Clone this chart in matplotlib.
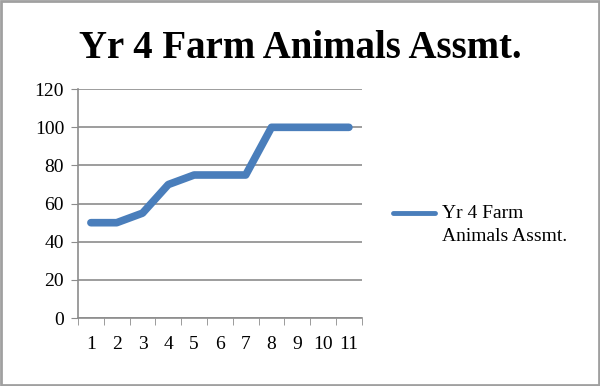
import numpy as np
import matplotlib.pyplot as plt
from matplotlib.patches import Rectangle
from matplotlib.lines import Line2D

# Datos
semanas = [1, 2, 3, 4, 5, 6, 7, 8, 9, 10, 11]
puntajes = [50, 50, 55, 70, 75, 75, 75, 100, 100, 100, 100]
titulo = 'Yr 4 Farm Animals Assmt.'
etiqueta = 'Yr 4 Farm\nAnimals Assmt.'

plt.rcParams['font.family'] = ['Liberation Serif', 'DejaVu Serif']

fig = plt.figure(figsize=(6, 3.86), dpi=100)
ax = fig.add_axes([0.13, 0.176, 0.473, 0.593])

gris = '#8c8c8c'
azul = '#4a7ebb'
ax.plot(semanas, puntajes, color=azul, linewidth=5.5,
        solid_capstyle='round', solid_joinstyle='round', zorder=3)

ax.set_xlim(0.5, 11.5)
ax.set_ylim(0, 120)
ax.set_yticks(np.arange(0, 121, 20))
ax.set_xticks(semanas)
ax.set_xticks(np.arange(0.5, 11.6, 1), minor=True)
ax.tick_params(axis='x', which='major', length=0, pad=13, labelsize=14)
ax.tick_params(axis='x', which='minor', length=5, color=gris, direction='out')
ax.tick_params(axis='y', length=5, color=gris, labelsize=14, pad=5)
ax.grid(axis='y', color=gris, linewidth=1.2)
for s in ['top', 'right']:
    ax.spines[s].set_visible(False)
for s in ['left', 'bottom']:
    ax.spines[s].set_color(gris)
    ax.spines[s].set_linewidth(1.2)

fig.text(0.5, 0.875, titulo, ha='center', va='center',
         fontsize=28, fontweight='bold')

# leyenda
fig.lines.append(Line2D([0.655, 0.725], [0.449, 0.449], transform=fig.transFigure,
                        color=azul, linewidth=3.5, solid_capstyle='round'))
fig.text(0.737, 0.468, etiqueta, ha='left', va='top', fontsize=14,
         linespacing=1.4)

fig.patches.append(Rectangle((0.002, 0.003), 0.996, 0.994,
                             transform=fig.transFigure, fill=False,
                             edgecolor='#a0a0a0', linewidth=2))

fig.savefig('out.png', dpi=100)
